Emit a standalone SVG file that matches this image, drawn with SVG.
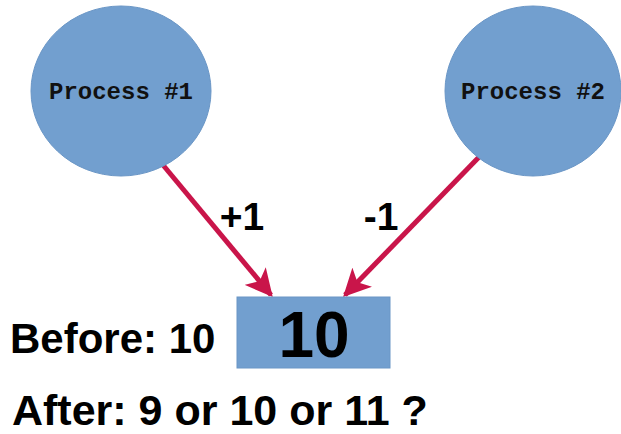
<svg xmlns="http://www.w3.org/2000/svg" width="621" height="434" viewBox="0 0 621 434">
<style>
.node{fill:#729fcf;stroke:#6a96c6;stroke-width:1}
.ptext{font-family:"Liberation Mono","Courier New",monospace;font-size:24px;font-weight:bold;fill:#111;text-anchor:middle}
.big{font-family:"Liberation Sans",Arial,sans-serif;font-weight:bold;fill:#000}
.conn{stroke:#c9154a;stroke-width:5;fill:none}
</style>
<defs>
<marker id="ah" viewBox="0 0 10 10" refX="9" refY="5" markerWidth="5.5" markerHeight="5.5" markerUnits="strokeWidth" orient="auto">
<path d="M0,0 L10,5 L0,10 L2.5,5 z" fill="#c9154a"/>
</marker>
</defs>
<rect width="621" height="434" fill="#fff"/>
<g id="connectors">
<line class="conn" x1="163" y1="165" x2="271" y2="295" marker-end="url(#ah)"/>
<line class="conn" x1="480" y1="156" x2="345" y2="295" marker-end="url(#ah)"/>
<text class="big" x="242" y="230" font-size="39" text-anchor="middle">+1</text>
<text class="big" x="381" y="230" font-size="39" text-anchor="middle">-1</text>
</g>
<g id="process1">
<ellipse class="node" cx="121" cy="91" rx="90" ry="85"/>
<text class="ptext" x="121" y="99">Process #1</text>
</g>
<g id="process2">
<ellipse class="node" cx="533" cy="91" rx="88" ry="85"/>
<text class="ptext" x="533" y="99">Process #2</text>
</g>
<g id="value">
<rect class="node" x="237" y="297" width="153" height="71"/>
<text class="big" x="314" y="357" font-size="64" text-anchor="middle">10</text>
</g>
<g id="before">
<text class="big" x="10" y="353" font-size="42">Before: 10</text>
</g>
<g id="after">
<text class="big" x="12" y="425" font-size="43">After: 9 or 10 or 11 ?</text>
</g>
</svg>
